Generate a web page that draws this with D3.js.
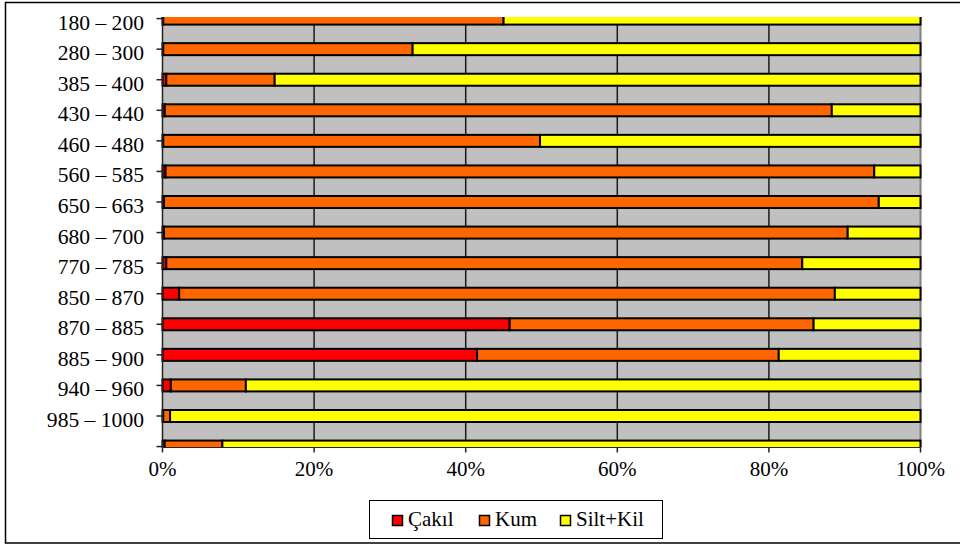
<!DOCTYPE html>
<html><head><meta charset="utf-8">
<script src="https://cdn.jsdelivr.net/npm/d3@7"></script>
<style>
html,body{margin:0;padding:0;background:#fff;}
svg{display:block;}
</style></head>
<body>
<svg id="c" width="960" height="545"></svg>
<script>
const categories = ["180 – 200","280 – 300","385 – 400","430 – 440","460 – 480","560 – 585","650 – 663","680 – 700","770 – 785","850 – 870","870 – 885","885 – 900","940 – 960","985 – 1000",""];
const cakil = [0.1, 0.1, 0.5, 0.3, 0.1, 0.4, 0.2, 0.2, 0.5, 2.2, 45.8, 41.5, 1.1, 0.1, 0.3];
const kum   = [44.9, 32.9, 14.3, 88.0, 49.7, 93.5, 94.3, 90.2, 83.9, 86.5, 40.1, 39.8, 9.9, 0.9, 7.6];
const siltKil = [55.0, 67.0, 85.2, 11.7, 50.2, 6.1, 5.5, 9.6, 15.6, 11.3, 14.1, 18.7, 89.0, 99.0, 92.1];
const seriesNames = ["Çakıl","Kum","Silt+Kil"];
const seriesColors = ["#FF0000","#FF6600","#FFFF00"];
const xTicks = [0,20,40,60,80,100];

const FONT = "'Liberation Serif'";
const svg = d3.select("#c");
const W = 960, H = 545;
// outer frame
svg.append("rect").attr("x",5.5).attr("y",2.5).attr("width",W+10).attr("height",540.5)
  .attr("fill","#fff").attr("stroke","#000").attr("stroke-width",1.5);

const plot = {left:162.5, right:920.5, top:17, bottom:447.5};
const x = d3.scaleLinear().domain([0,100]).range([plot.left, plot.right]);
const y = d3.scaleBand().domain(categories.map((c,i)=>i)).range([3.3, 3.3+15*30.57]).padding(0);
const barH = 12;
const yc = i => y(i) + y.bandwidth()/2;

const rows = categories.map((c,i)=>({i, Çakıl:cakil[i], Kum:kum[i], "Silt+Kil":siltKil[i]}));
const stacked = d3.stack().keys(seriesNames)
  .offset(d3.stackOffsetExpand)(rows);

// clip
svg.append("clipPath").attr("id","pc").append("rect")
  .attr("x",plot.left-2).attr("y",plot.top).attr("width",plot.right-plot.left+4).attr("height",plot.bottom-plot.top);

const g = svg.append("g").attr("clip-path","url(#pc)");
g.append("rect").attr("x",plot.left).attr("y",plot.top).attr("width",plot.right-plot.left).attr("height",plot.bottom-plot.top)
  .attr("fill","#C0C0C0");
g.append("line").attr("x1",plot.left).attr("x2",plot.right).attr("y1",plot.top+0.5).attr("y2",plot.top+0.5)
  .attr("stroke","#d6d6b8").attr("stroke-width",1);
g.append("line").attr("x1",plot.right).attr("x2",plot.right).attr("y1",plot.top).attr("y2",plot.bottom)
  .attr("stroke","#808080").attr("stroke-width",2);
// gridlines
g.selectAll(".grid").data(xTicks.filter(t=>t>0&&t<100)).enter().append("line")
  .attr("x1",d=>x(d)).attr("x2",d=>x(d)).attr("y1",plot.top).attr("y2",plot.bottom)
  .attr("stroke","#1a1a1a").attr("stroke-width",1.5);

// bars
stacked.forEach((s,si)=>{
  g.selectAll(".b"+si).data(s).enter().append("rect")
    .attr("x",d=>x(d[0]*100))
    .attr("width",d=>Math.max(0,x(d[1]*100)-x(d[0]*100)))
    .attr("y",(d,i)=>yc(i)-barH/2)
    .attr("height",barH)
    .attr("fill",seriesColors[si])
    .attr("stroke","#000").attr("stroke-width",2);
});

// y axis
const yAxisG = svg.append("g");
yAxisG.append("line").attr("x1",plot.left).attr("x2",plot.left).attr("y1",plot.top).attr("y2",plot.bottom)
  .attr("stroke","#222").attr("stroke-width",1.5);
yAxisG.selectAll(".yt").data(categories).enter().append("line")
  .attr("x1",plot.left-6).attr("x2",plot.left).attr("y1",(d,i)=>yc(i)).attr("y2",(d,i)=>yc(i))
  .attr("stroke","#222").attr("stroke-width",1.5);
yAxisG.selectAll(".yl").data(categories).enter().append("text")
  .attr("x",144).attr("y",(d,i)=>yc(i)+11)
  .attr("text-anchor","end").attr("font-size",21.6).style("font-family",FONT).attr("fill","#000")
  .text(d=>d);

// x axis
const xAxisG = svg.append("g");
xAxisG.append("line").attr("x1",plot.left).attr("x2",plot.right).attr("y1",plot.bottom).attr("y2",plot.bottom)
  .attr("stroke","#222").attr("stroke-width",1);
xAxisG.selectAll(".xt").data(xTicks).enter().append("line")
  .attr("x1",d=>x(d)).attr("x2",d=>x(d)).attr("y1",plot.bottom).attr("y2",plot.bottom+5)
  .attr("stroke","#222").attr("stroke-width",1.5);
xAxisG.selectAll(".xl").data(xTicks).enter().append("text")
  .attr("x",d=>x(d)).attr("y",476)
  .attr("text-anchor","middle").attr("font-size",21).style("font-family",FONT).attr("fill","#000")
  .text(d=>d+"%");

// legend
const lg = svg.append("g");
lg.append("rect").attr("x",369.5).attr("y",500.5).attr("width",293).attr("height",38)
  .attr("fill","#fff").attr("stroke","#000").attr("stroke-width",1);
const legX = [392, 479, 560];
seriesNames.forEach((n,i)=>{
  lg.append("rect").attr("x",legX[i]+0.5).attr("y",515.5).attr("width",10).attr("height",10)
    .attr("fill",seriesColors[i]).attr("stroke","#000").attr("stroke-width",1.5);
  lg.append("text").attr("x",legX[i]+16).attr("y",526).attr("font-size",21).style("font-family",FONT).attr("fill","#000").text(n);
});
</script>
</body></html>
